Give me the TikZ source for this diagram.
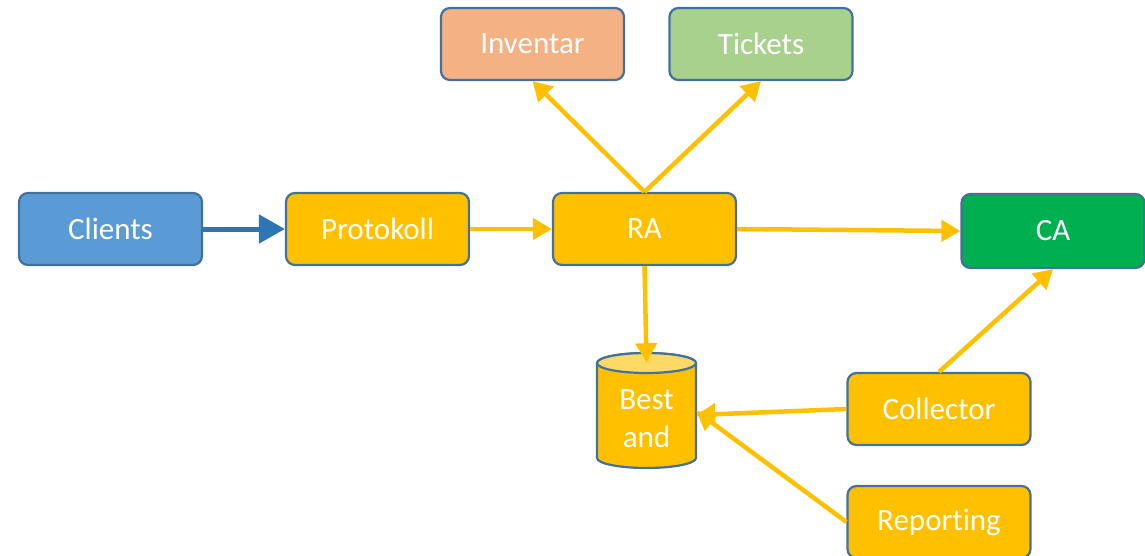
\documentclass[tikz,border=0pt]{standalone}
\usepackage{fontspec}
\setmainfont[Ligatures=NoCommon]{Carlito}
\usetikzlibrary{arrows.meta}
\definecolor{bord}{HTML}{41719C}
\definecolor{ybox}{HTML}{FFC000}
\definecolor{ytop}{HTML}{FFD966}
\definecolor{bbox}{HTML}{5B9BD5}
\definecolor{barr}{HTML}{2E75B6}
\definecolor{obox}{HTML}{F4B183}
\definecolor{gbox}{HTML}{A9D18E}
\definecolor{cabox}{HTML}{00B050}
\tikzset{
  box/.style={draw=bord, line width=2.2pt, rounded corners=9pt, minimum width=183pt, minimum height=72pt, text=white, font=\fontsize{31}{36}\selectfont, inner sep=0pt},
  yarr/.style={draw=ybox, line width=4.5pt, -{Triangle[length=19pt,width=21pt]}},
  barrow/.style={draw=barr, line width=5pt, -{Triangle[length=26pt,width=28pt]}}
}
\begin{document}
\begin{tikzpicture}[x=1pt,y=-1pt]
\useasboundingbox (0,0) rectangle (1145,555);
\node[box, fill=bbox] (clients) at (110.5,229) {Clients};
\node[box, fill=ybox] (proto) at (377.5,229) {Protokoll};
\node[box, fill=ybox] (ra) at (644.5,229) {RA};
\node[box, fill=cabox, minimum height=74pt] (ca) at (1053,231) {CA};
\node[box, fill=obox, minimum height=72pt] (inv) at (532.5,44) {Inventar};
\node[box, fill=gbox, minimum height=72pt] (tick) at (761,44) {Tickets};
\node[box, fill=ybox] (coll) at (939,409) {Collector};
\node[box, fill=ybox] (rep) at (939,522) {Reporting};
% cylinder
\draw[draw=bord, line width=2.2pt, fill=ybox] (597,363) -- (597,458) arc[start angle=180, end angle=360, x radius=49.5pt, y radius=10pt] -- (696,363) arc[start angle=0, end angle=180, x radius=49.5pt, y radius=10pt] -- cycle;
\draw[draw=bord, line width=2.2pt, fill=ytop] (646.5,363) ellipse[x radius=49.5pt, y radius=10pt];
\node[minimum width=99pt, minimum height=105pt, inner sep=0pt] (db) at (646.5,415) {};
\node[text=white, font=\fontsize{31}{38}\selectfont, align=center] at (646.5,419) {Best\\and};
% connectors
\draw[barrow] (clients.east) -- (proto.west);
\draw[yarr] (proto.east) -- (ra.west);
\draw[yarr] (ra.east) -- (ca.west);
\draw[yarr] (ra.south) -- (db.north);
\draw[yarr] (ra.north) -- (inv.south);
\draw[yarr] (ra.north) -- (tick.south);
\draw[yarr] (coll.north) -- (ca.south);
\draw[yarr] (coll.west) -- (db.east);
\draw[yarr] (rep.west) -- ([yshift=4pt]db.east);
\end{tikzpicture}
\end{document}
